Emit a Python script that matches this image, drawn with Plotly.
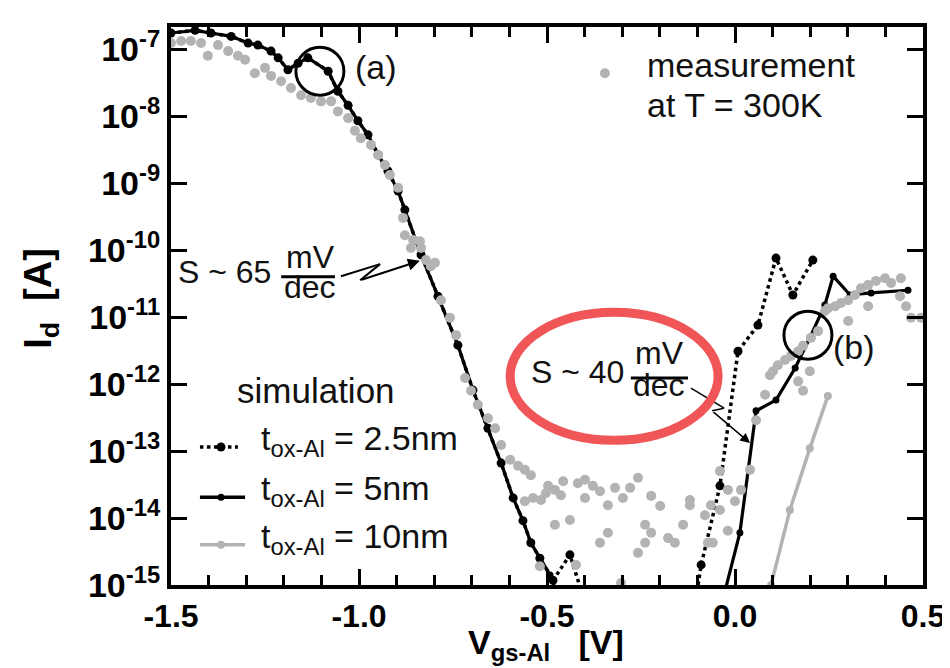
import numpy as np
import plotly.graph_objects as go

FONT = "Liberation Sans, Arial, Helvetica, sans-serif"

# ---------------- data (Vgs in V, log10 of Id in A) ----------------
meas_vgs = [-1.500, -1.473, -1.447, -1.420, -1.402, -1.375, -1.348, -1.322, -1.303, -1.277,
            -1.250, -1.234, -1.207, -1.181, -1.154, -1.128, -1.101, -1.074, -1.056, -1.029,
            -1.011, -0.995, -0.968, -0.949, -0.931, -0.918, -0.896, -0.883, -0.878, -0.856,
            -0.838, -0.862, -0.835, -0.822, -0.798, -0.809, -0.782, -0.758, -0.742, -0.718,
            -0.702, -0.684, -0.657, -0.638, -0.622, -0.598, -0.577, -0.559, -0.543, -0.497,
            -0.479, -0.457, -0.503, -0.463, -0.559, -0.537, -0.516, -0.418, -0.399, -0.378,
            -0.359, -0.399, -0.338, -0.319, -0.298, -0.279, -0.258, -0.223, -0.199, -0.479,
            -0.439, -0.338, -0.359, -0.239, -0.223, -0.239, -0.258, -0.178, -0.160, -0.138,
            -0.120, -0.120, -0.080, -0.064, -0.040, -0.072, -0.059, -0.040, -0.019, 0.016,
            0.000, 0.040, -0.019, -0.423, -0.519, -0.303, 0.056, 0.080, 0.093, 0.101,
            0.114, 0.133, 0.149, 0.168, 0.181, 0.202, 0.221, 0.239, 0.247, 0.266,
            0.282, 0.301, 0.319, 0.335, 0.354, 0.375, 0.399, 0.415, 0.441, 0.439,
            0.455, 0.468, 0.495, 0.354, 0.301, 0.199, 0.168, 0.181]
meas_log_id = [-6.91, -6.88, -6.88, -6.91, -7.10, -6.94, -7.03, -7.10, -7.16, -7.36,
               -7.28, -7.40, -7.48, -7.58, -7.69, -7.73, -7.78, -7.78, -7.93, -8.03,
               -8.22, -8.33, -8.43, -8.58, -8.73, -8.88, -9.07, -9.52, -9.78, -9.85,
               -9.87, -9.97, -9.97, -10.15, -10.19, -10.24, -10.75, -11.01, -11.27, -11.91,
               -12.10, -12.31, -12.51, -12.66, -12.91, -13.13, -13.22, -13.28, -13.36, -13.52,
               -13.58, -13.45, -13.63, -13.66, -13.75, -13.70, -13.73, -13.48, -13.43, -13.52,
               -13.60, -13.70, -13.81, -13.55, -13.70, -13.55, -13.40, -13.67, -13.82, -14.10,
               -14.03, -14.22, -14.37, -14.10, -14.22, -14.37, -14.52, -14.30, -14.37, -14.10,
               -13.73, -13.81, -13.96, -13.81, -13.88, -14.37, -14.37, -13.30, -13.58, -13.58,
               -13.75, -13.28, -14.19, -14.70, -14.72, -14.97, -12.54, -12.16, -11.87, -11.81,
               -11.72, -11.64, -11.58, -11.51, -11.43, -11.31, -11.21, -10.91, -10.87, -10.84,
               -10.79, -10.75, -10.67, -10.57, -10.52, -10.46, -10.42, -10.49, -10.42, -10.69,
               -10.84, -11.01, -11.01, -10.84, -11.06, -11.81, -11.96, -12.10]

# simulation t_ox-Al = 5 nm (solid black)
sim5_left_vgs = [-1.500, -1.436, -1.394, -1.340, -1.295, -1.269, -1.234, -1.215, -1.189, -1.162,
                 -1.136, -1.082, -1.056, -1.029, -1.003, -0.976, -0.949, -0.923, -0.896, -0.878,
                 -0.835, -0.790, -0.737, -0.697, -0.657, -0.622, -0.590, -0.564, -0.543, -0.519,
                 -0.492, -0.475]
sim5_left_log_id = [-6.76, -6.72, -6.76, -6.81, -6.91, -6.94, -7.03, -7.13, -7.31, -7.21,
                    -7.13, -7.33, -7.63, -7.84, -8.07, -8.28, -8.58, -8.82, -9.12, -9.40,
                    -10.07, -10.69, -11.42, -12.09, -12.66, -13.18, -13.70, -14.04, -14.37, -14.60,
                    -14.85, -15.10]
sim5_right_vgs = [-0.027, 0.013, 0.056, 0.109, 0.160, 0.199, 0.239, 0.261, 0.306, 0.362, 0.460]
sim5_right_log_id = [-15.10, -14.22, -12.40, -12.24, -11.76, -11.31, -10.82, -10.39, -10.67, -10.64, -10.60]

# simulation t_ox-Al = 2.5 nm (dotted black)
sim25_left_vgs = [-1.500, -1.436, -1.394, -1.340, -1.295, -1.269, -1.234, -1.215, -1.189, -1.162,
                  -1.136, -1.082, -1.056, -1.029, -1.003, -0.976, -0.949, -0.923, -0.896, -0.878,
                  -0.835, -0.790, -0.737, -0.697, -0.657, -0.622, -0.590, -0.564, -0.543, -0.519,
                  -0.484, -0.439, -0.407]
sim25_left_log_id = [-6.76, -6.72, -6.76, -6.81, -6.91, -6.94, -7.03, -7.13, -7.31, -7.21,
                     -7.13, -7.33, -7.63, -7.84, -8.07, -8.28, -8.58, -8.82, -9.12, -9.40,
                     -10.07, -10.69, -11.42, -12.09, -12.66, -13.18, -13.70, -14.04, -14.37, -14.60,
                     -14.93, -14.55, -15.12]
sim25_right_vgs = [-0.101, -0.090, -0.040, 0.008, 0.061, 0.109, 0.154, 0.207]
sim25_right_log_id = [-15.10, -14.70, -13.52, -11.51, -11.12, -10.12, -10.67, -10.15]

# simulation t_ox-Al = 10 nm (gray)
sim10_vgs = [0.096, 0.146, 0.199, 0.247]
sim10_log_id = [-15.00, -13.88, -12.96, -12.18]

x_tick_vals = [-1.5, -1.0, -0.5, 0.0, 0.5]
x_tick_labels = ["-1.5", "-1.0", "-0.5", "0.0", "0.5"]
y_tick_exps = [-15, -14, -13, -12, -11, -10, -9, -8, -7]
y_tick_labels = ["10<sup>-15</sup>", "10<sup>-14</sup>", "10<sup>-13</sup>", "10<sup>-12</sup>",
                 "10<sup>-11</sup>", "10<sup>-10</sup>", "10<sup>-9</sup>", "10<sup>-8</sup>",
                 "10<sup>-7</sup>"]

legend_labels = ["t<sub>ox-Al</sub> = 2.5nm", "t<sub>ox-Al</sub> = 5nm", "t<sub>ox-Al</sub> = 10nm"]

X_RANGE = [-1.5, 0.5]
Y_RANGE = [-15.0, -6.67]

W, H = 950, 668
MARGIN = dict(l=163, r=35, t=19, b=91)
PLOT_W = W - MARGIN["l"] - MARGIN["r"]
PLOT_H = H - MARGIN["t"] - MARGIN["b"]

GRAY = "#b3b3b3"
BLACK = "#000000"
TXT = "#111111"


def p10(a):
    return np.power(10.0, np.array(a, dtype=float))


def fx(x):  # data x -> paper
    return (x - X_RANGE[0]) / (X_RANGE[1] - X_RANGE[0])


def fy(ly):  # log10 y -> paper
    return (ly - Y_RANGE[0]) / (Y_RANGE[1] - Y_RANGE[0])


fig = go.Figure()

# 10 nm
fig.add_trace(go.Scatter(x=sim10_vgs, y=p10(sim10_log_id), mode="lines+markers",
                         line=dict(color=GRAY, width=3.5), marker=dict(color=GRAY, size=8),
                         showlegend=False))
# 2.5 nm dotted
for xs, ys in [(sim25_left_vgs, sim25_left_log_id), (sim25_right_vgs, sim25_right_log_id)]:
    fig.add_trace(go.Scatter(x=xs, y=p10(ys), mode="lines+markers",
                             line=dict(color=BLACK, width=3.5, dash="dot"),
                             marker=dict(color=BLACK, size=9), showlegend=False))
# 5 nm solid
for xs, ys in [(sim5_left_vgs, sim5_left_log_id), (sim5_right_vgs, sim5_right_log_id)]:
    fig.add_trace(go.Scatter(x=xs, y=p10(ys), mode="lines+markers",
                             line=dict(color=BLACK, width=3.2),
                             marker=dict(color=BLACK, size=7), showlegend=False))
# measurement
fig.add_trace(go.Scatter(x=meas_vgs, y=p10(meas_log_id), mode="markers",
                         marker=dict(color=GRAY, size=10), showlegend=False))

shapes = []
annotations = []


def pline(x0, y0, x1, y1, width, color=BLACK, dash="solid"):
    shapes.append(dict(type="line", xref="paper", yref="paper",
                       x0=fx(x0), y0=fy(y0), x1=fx(x1), y1=fy(y1),
                       line=dict(color=color, width=width, dash=dash), layer="above"))


def pdot(x, ly, r, color, lw=0, fill=None):
    rx = r / PLOT_W
    ry = r / PLOT_H
    shapes.append(dict(type="circle", xref="paper", yref="paper",
                       x0=fx(x) - rx, x1=fx(x) + rx, y0=fy(ly) - ry, y1=fy(ly) + ry,
                       fillcolor=fill if fill else "rgba(0,0,0,0)",
                       line=dict(color=color, width=lw), layer="above"))


def text(x, ly, s, size=34, xanchor="center"):
    annotations.append(dict(x=x, y=ly, text=s, showarrow=False, xanchor=xanchor,
                            yanchor="middle", font=dict(family=FONT, size=size, color=TXT)))


# circles (a) and (b)
pdot(-1.104, -7.33, 24, BLACK, lw=3)
pdot(0.194, -11.27, 24, BLACK, lw=3)
text(-0.954, -7.27, "(a)")
text(0.316, -11.44, "(b)")

# slope annotation S ~ 65 mV/dec
text(-1.358, -10.33, "S ~ 65", size=32)
text(-1.130, -10.10, "mV", size=32)
text(-1.130, -10.55, "dec", size=32)
pline(-1.207, -10.40, -1.064, -10.40, 3)
pline(-1.048, -10.39, -0.944, -10.21, 2)
pline(-0.944, -10.21, -0.997, -10.45, 2)
annotations.append(dict(x=-0.838, y=-10.16, ax=-0.997, ay=-10.45, axref="x", ayref="y",
                        text="", showarrow=True, arrowhead=2, arrowsize=1.2, arrowwidth=2,
                        arrowcolor=BLACK))

# slope annotation S ~ 40 mV/dec
text(-0.418, -11.82, "S ~ 40", size=32)
text(-0.202, -11.54, "mV", size=32)
text(-0.202, -12.01, "dec", size=32)
pline(-0.277, -11.91, -0.125, -11.91, 3)
pline(-0.117, -12.06, -0.029, -12.36, 1.5)
pline(-0.029, -12.36, -0.061, -12.40, 1.5)
annotations.append(dict(x=0.040, y=-12.88, ax=-0.061, ay=-12.40, axref="x", ayref="y",
                        text="", showarrow=True, arrowhead=2, arrowsize=1.3, arrowwidth=1.5,
                        arrowcolor=BLACK))

# red highlight ellipse
shapes.append(dict(type="circle", xref="paper", yref="paper",
                   x0=fx(-0.598), x1=fx(-0.045), y0=fy(-12.84), y1=fy(-10.93),
                   line=dict(color="rgb(240,86,88)", width=9), layer="above"))

# measurement legend
pdot(-0.346, -7.36, 5, GRAY, fill=GRAY)
text(-0.240, -7.24, "measurement", xanchor="left")
text(-0.240, -7.84, "at T = 300K", xanchor="left")

# simulation legend
text(-1.330, -12.09, "simulation", size=35, xanchor="left")
leg_y = [-12.94, -13.69, -14.40]
leg_styles = [dict(color=BLACK, dash="dot", msize=9, x1=-1.322),
              dict(color=BLACK, dash="solid", msize=7, x1=-1.303),
              dict(color=GRAY, dash="solid", msize=8, x1=-1.303)]
for ly, st, lab in zip(leg_y, leg_styles, legend_labels):
    pline(-1.423, ly, st["x1"], ly, 3.5, color=st["color"], dash=st["dash"])
    pdot(-1.367, ly, st["msize"] / 2, st["color"], fill=st["color"])
    text(-1.265, ly + 0.10, lab, xanchor="left")

# axis titles
annotations.append(dict(xref="paper", yref="paper", x=-0.172, y=0.514, textangle=-90,
                        xanchor="center", yanchor="middle",
                        text="<b>I<sub>d</sub>&nbsp;&nbsp;[A]</b>", showarrow=False,
                        font=dict(family=FONT, size=38, color=BLACK)))
annotations.append(dict(xref="paper", yref="paper", x=0.499, y=-0.107,
                        xanchor="center", yanchor="middle",
                        text="<b>V<sub>gs-Al</sub>&nbsp;&nbsp;&nbsp;[V]</b>", showarrow=False,
                        font=dict(family=FONT, size=34, color=BLACK)))

fig.update_layout(
    width=W, height=H,
    margin=MARGIN,
    paper_bgcolor="white", plot_bgcolor="white",
    shapes=shapes, annotations=annotations,
    showlegend=False,
    font=dict(family=FONT),
)
fig.update_xaxes(range=X_RANGE, tickmode="array", tickvals=x_tick_vals, ticktext=x_tick_labels,
                 ticks="inside", ticklen=16, tickwidth=3, tickcolor=BLACK,
                 minor=dict(dtick=0.1, tick0=-1.5, ticks="inside", ticklen=10, tickwidth=3,
                            tickcolor=BLACK, showgrid=False),
                 showline=True, linewidth=4, linecolor=BLACK, mirror="allticks",
                 showgrid=False, zeroline=False,
                 tickfont=dict(family=FONT, size=32, color=BLACK, weight="bold"))
fig.update_yaxes(type="log", range=Y_RANGE, tickmode="array",
                 tickvals=[10.0 ** e for e in y_tick_exps], ticktext=y_tick_labels,
                 ticks="inside", ticklen=16, tickwidth=3, tickcolor=BLACK,
                 showline=True, linewidth=4, linecolor=BLACK, mirror="allticks",
                 showgrid=False, zeroline=False,
                 tickfont=dict(family=FONT, size=34, color=BLACK, weight="bold"))

fig.write_html("out.html")
